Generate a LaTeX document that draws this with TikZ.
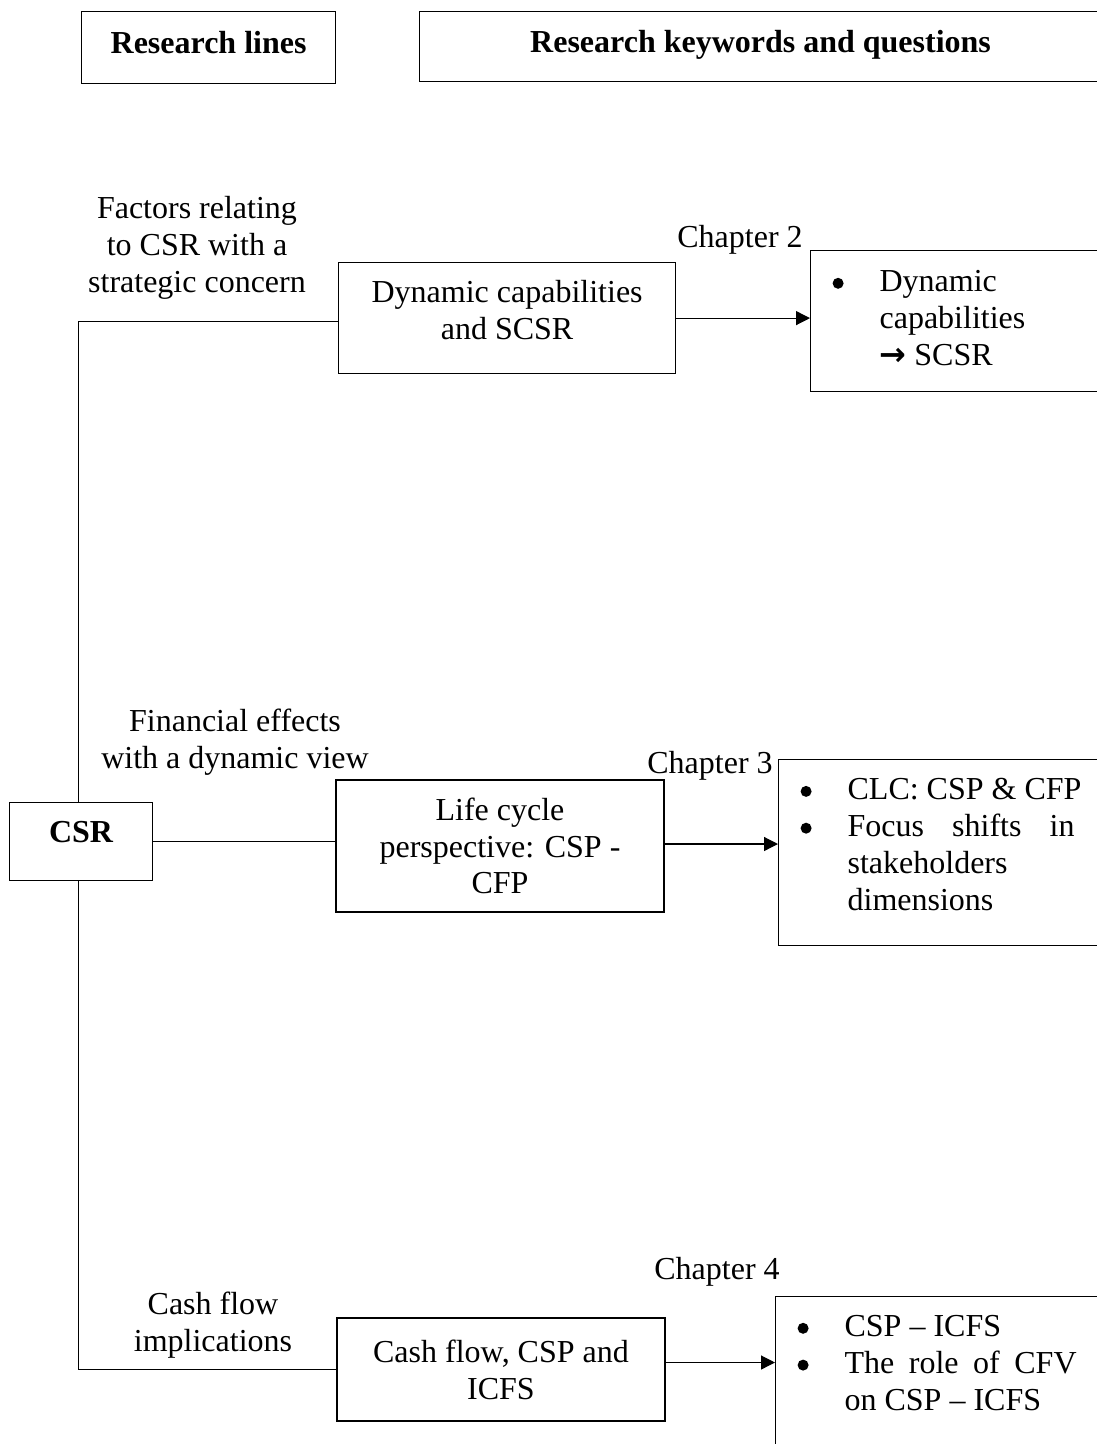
\documentclass[tikz,border=0pt]{standalone}
\usepackage{fontspec}
\setmainfont{Liberation Serif}
\newfontfamily\arrowfont{DejaVu Sans}
\usetikzlibrary{arrows.meta}
\newcommand\bodyfont{\fontsize{32}{36.8}\selectfont}
\newlength\lw
\newcommand\bl{\makebox[47pt][l]{\tikz[baseline=0pt]\fill (6pt,8.5pt) circle[radius=5.5pt];}}
\newcommand\li[1]{\makebox[\lw][l]{\bl #1}}
\newcommand\lc[1]{\makebox[\lw][l]{\hspace*{47pt}#1}}
\newcommand\dn[1]{\rule[-#1]{0pt}{0pt}}
\begin{document}
\begin{tikzpicture}[x=1pt,y=-1pt,
  every node/.style={font=\bodyfont},
  box/.style={draw, line width=1.2pt, inner xsep=0pt, align=center},
  listbox/.style={draw, line width=1.2pt, inner xsep=22pt, align=left, anchor=north west},
  lbl/.style={align=center, inner sep=0pt},
  conn/.style={line width=1.2pt},
  arr/.style={line width=1.2pt, -{Triangle[length=14pt,width=14pt]}}
]
\useasboundingbox (0,0) rectangle (1097,1444);

% headers
\node[box, font=\bodyfont\bfseries, anchor=north west, minimum width=254pt, inner ysep=20pt]
  (h1) at (81,11) {Research lines\dn{10pt}};
\node[box, font=\bodyfont\bfseries, anchor=north west, minimum width=682pt, inner ysep=19pt]
  (h2) at (419,11) {Research keywords and questions\dn{10pt}};

% CSR
\node[box, font=\bodyfont\bfseries, anchor=north west, minimum width=143pt, inner ysep=18.5pt]
  (csr) at (9,802) {CSR\dn{19.5pt}};

% middle boxes
\node[box, anchor=north west, minimum width=337pt, inner ysep=18pt]
  (dyn) at (338,262) {Dynamic capabilities\\and SCSR\dn{16pt}};
\node[box, minimum width=328pt, minimum height=132pt]
  (life) at (500,846) {Life cycle\\perspective: CSP -\\CFP};
\node[box, minimum width=328pt, minimum height=103pt]
  (cash) at (501,1369.5) {Cash flow, CSP and\\ICFS};

% right boxes
\setlength\lw{251pt}
\node[listbox, inner ysep=20pt] (r1) at (810,250)
  {\li{Dynamic}\\\lc{capabilities}\\\lc{{\arrowfont\bfseries →} SCSR}\dn{6.4pt}};
\setlength\lw{286pt}
\node[listbox, inner ysep=19pt] (r2) at (778,759)
  {\li{CLC: CSP \& CFP}\\\li{\makebox[227pt][s]{Focus\hfill shifts\hfill in}}\\\lc{stakeholders}\\\lc{dimensions}\dn{16.5pt}};
\node[listbox, inner ysep=19pt] (r3) at (775,1296)
  {\li{CSP – ICFS}\\\li{\makebox[232pt][s]{The\hfill role\hfill of\hfill CFV}}\\\lc{on CSP – ICFS}\dn{40pt}};

% labels
\node[lbl] (lab1) at (197,248) {Factors relating\\to CSR with a\\strategic concern};
\node[lbl] (lab2) at (235,742) {Financial effects\\with a dynamic view};
\node[lbl] (lab3) at (213,1325) {Cash flow\\implications};
\node[lbl] (ch2) at (740,240) {Chapter 2};
\node[lbl] (ch3) at (710,765.5) {Chapter 3};
\node[lbl] (ch4) at (717,1272) {Chapter 4};

% connectors
\draw[conn] ([xshift=-2.5pt]csr.north) |- ([yshift=-3pt]dyn.west);
\draw[conn] (csr.east) -- (csr.east -| life.west);
\draw[conn] ([xshift=-2.5pt]csr.south) |- (cash.west);
\draw[arr] (dyn.east) -- (dyn.east -| r1.west);
\draw[arr] ([yshift=2pt]life.east) -- ([yshift=2pt]life.east -| r2.west);
\draw[arr] ([yshift=7pt]cash.east) -- ([yshift=7pt]cash.east -| r3.west);
\end{tikzpicture}
\end{document}
